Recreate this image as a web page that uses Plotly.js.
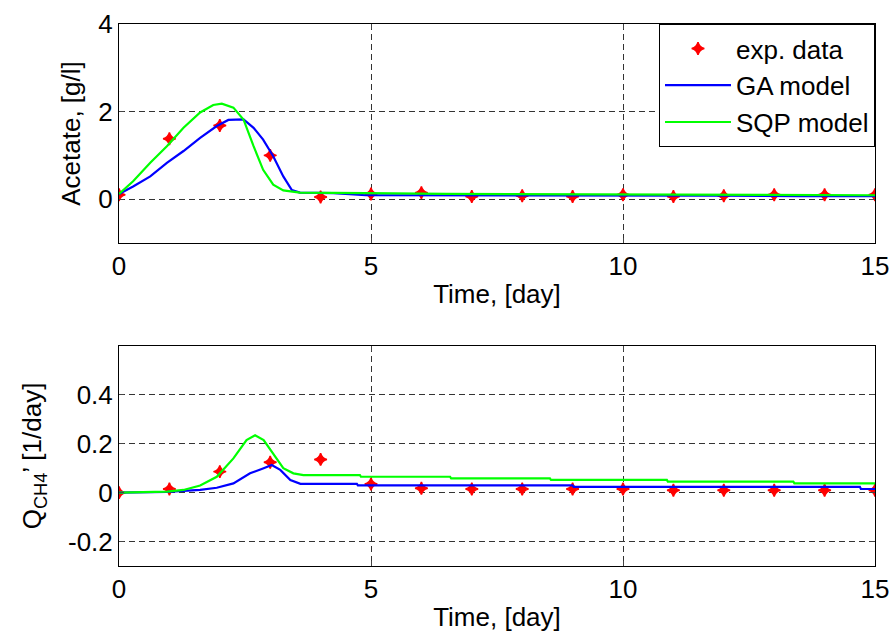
<!DOCTYPE html>
<html>
<head>
<meta charset="utf-8">
<script src="https://cdn.plot.ly/plotly-3.0.1.min.js"></script>
<style>html,body{margin:0;padding:0;background:#fff;}#chart{width:893px;height:632px;}</style>
</head>
<body>
<div id="chart"></div>
<script>
// Experimental data (days 0..15)
const expTime = [0,1,2,3,4,5,6,7,8,9,10,11,12,13,14,15];
const expAcetate = [0.10,1.38,1.68,1.00,0.05,0.12,0.15,0.06,0.08,0.06,0.10,0.06,0.08,0.10,0.10,0.10];
const expQch4 = [0.000,0.015,0.086,0.124,0.136,0.035,0.018,0.015,0.015,0.015,0.015,0.010,0.010,0.010,0.010,0.010];

// GA model, acetate
const gaAcetateT = [0,0.28,0.62,0.95,1.28,1.61,1.94,2.17,2.47,2.67,2.86,3.06,3.26,3.43,3.59,4.25,4.9,6.5,8.5,10,12,13.5,15];
const gaAcetateY = [0.12,0.29,0.52,0.83,1.10,1.40,1.67,1.81,1.82,1.63,1.36,0.98,0.52,0.21,0.15,0.14,0.09,0.09,0.08,0.08,0.08,0.07,0.07];
// SQP model, acetate
const sqpAcetateT = [0,0.28,0.62,0.95,1.28,1.61,1.87,2.04,2.27,2.47,2.67,2.86,3.06,3.26,3.59,4.25,4.9,6.5,8.5,10,12,13.5,15];
const sqpAcetateY = [0.12,0.41,0.83,1.21,1.63,1.98,2.15,2.18,2.09,1.82,1.21,0.67,0.33,0.20,0.15,0.15,0.14,0.12,0.11,0.11,0.10,0.09,0.09];

// GA model, Q_CH4
const gaQT = [0,0.95,1.61,1.94,2.27,2.6,2.87,3.03,3.2,3.4,3.6,4.72,4.74,9.0,9.02,14.7,14.72,15];
const gaQY = [0,0.003,0.011,0.02,0.038,0.079,0.10,0.113,0.093,0.052,0.036,0.036,0.03,0.03,0.024,0.024,0.015,0.015];
// SQP model, Q_CH4
const sqpQT = [0,0.95,1.28,1.61,1.94,2.27,2.53,2.70,2.87,3.07,3.26,3.46,3.66,4.78,4.8,6.57,6.59,8.55,8.57,10.87,10.89,13.38,13.4,15];
const sqpQY = [0,0.004,0.011,0.029,0.065,0.14,0.215,0.235,0.215,0.154,0.10,0.079,0.072,0.072,0.065,0.065,0.058,0.058,0.052,0.052,0.045,0.045,0.038,0.038];

const xTicks = [0,5,10,15];
const yTicksTop = [0,2,4];
const yTickTextTop = ['0','2','4'];
const yTicksBottom = [-0.2,0,0.2,0.4];
const yTickTextBottom = ['-0.2','0','0.2','0.4'];

const FONT = 'Liberation Sans, Arial, sans-serif';
const FS = 26;
const markerStyle = {symbol:'star-diamond', size:9, color:'#ff0000', line:{width:1.5, color:'#ff0000'}};

const traces = [
  {x:expTime, y:expAcetate, mode:'markers', name:'exp. data', marker:markerStyle, xaxis:'x', yaxis:'y'},
  {x:gaAcetateT, y:gaAcetateY, mode:'lines', name:'GA model', line:{color:'#0000ff', width:2.2}, xaxis:'x', yaxis:'y'},
  {x:sqpAcetateT, y:sqpAcetateY, mode:'lines', name:'SQP model', line:{color:'#00ff00', width:2.2}, xaxis:'x', yaxis:'y'},
  {x:expTime, y:expQch4, mode:'markers', showlegend:false, marker:markerStyle, xaxis:'x2', yaxis:'y2'},
  {x:gaQT, y:gaQY, mode:'lines', showlegend:false, line:{color:'#0000ff', width:2.2}, xaxis:'x2', yaxis:'y2'},
  {x:sqpQT, y:sqpQY, mode:'lines', showlegend:false, line:{color:'#00ff00', width:2.2}, xaxis:'x2', yaxis:'y2'}
];

function xAxis(anchor){
  return {
    anchor:anchor, domain:[0,1], range:[0,15], tickvals:xTicks, ticks:'inside', ticklen:5,
    mirror:'ticks', showline:true, linecolor:'#000', linewidth:1, zeroline:false,
    showgrid:true, gridcolor:'#333', griddash:'6px,4px', gridwidth:1,
    tickfont:{family:FONT, size:FS, color:'#000'},
    title:{text:'Time, [day]', font:{family:FONT, size:FS, color:'#000'}, standoff:4}
  };
}
function yAxis(anchor, domain, range, tv, tt, title, standoff){
  return {
    anchor:anchor, domain:domain, range:range, tickvals:tv, ticktext:tt, ticks:'inside', ticklen:5,
    mirror:'ticks', showline:true, linecolor:'#000', linewidth:1, zeroline:false,
    showgrid:true, gridcolor:'#333', griddash:'6px,4px', gridwidth:1,
    tickfont:{family:FONT, size:FS, color:'#000'},
    title:{text:title, font:{family:FONT, size:FS, color:'#000'}, standoff:standoff}
  };
}

const layout = {
  width:893, height:632,
  margin:{l:119, r:18, t:24, b:66},
  paper_bgcolor:'#fff', plot_bgcolor:'#fff',
  font:{family:FONT, size:FS, color:'#000'},
  xaxis: xAxis('y'),
  yaxis: yAxis('x', [0.596,1], [-1,4], yTicksTop, yTickTextTop, 'Acetate, [g/l]', 10),
  xaxis2: xAxis('y2'),
  yaxis2: yAxis('x2', [0,0.406], [-0.3,0.6], yTicksBottom, yTickTextBottom, 'Q<sub>CH4</sub>’ [1/day]', 18),
  legend:{x:1, xanchor:'right', y:1, yanchor:'top', bgcolor:'#fff', bordercolor:'#000', borderwidth:1,
    font:{family:FONT, size:26, color:'#000'}, itemwidth:66, tracegroupgap:0},
  showlegend:true
};

Plotly.newPlot('chart', traces, layout, {displayModeBar:false, staticPlot:true});
</script>
</body>
</html>
